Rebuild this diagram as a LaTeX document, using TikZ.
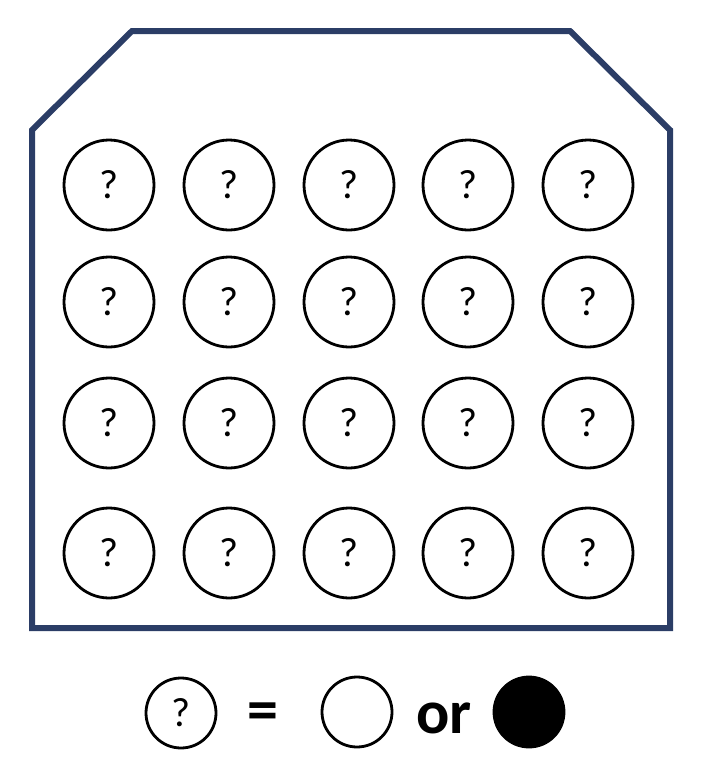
\documentclass[tikz,border=0pt]{standalone}
\usepackage{fontspec}
\setmainfont{Carlito}
\definecolor{navy}{HTML}{2B3D66}
\begin{document}
\begin{tikzpicture}[x=1pt,y=-1pt,
  qcirc/.style={circle,draw=black,line width=2.8pt,minimum size=90pt,inner sep=0pt,font=\fontsize{41}{41}\selectfont},
  lcirc/.style={circle,draw=black,line width=2.8pt,minimum size=70pt,inner sep=0pt,font=\fontsize{41}{41}\selectfont},
  big/.style={font=\fontsize{62}{62}\selectfont\bfseries,inner sep=0pt}]
\useasboundingbox (0,0) rectangle (702,774);
\draw[navy,line width=6pt,line join=miter] (32,130) -- (132,31) -- (570,31) -- (670,130) -- (670,628) -- (32,628) -- cycle;
\foreach \r/\y in {1/185,2/302,3/423,4/553}{
  \foreach \c/\x in {1/109,2/229,3/349,4/468,5/588}{
    \node[qcirc] (q\r\c) at (\x,\y) {?};
  }
}
\node[lcirc] (lq) at (181,713) {?};
\node[big] (eq) at (263,716.5) {=};
\node[lcirc] (lw) at (357,712) {};
\node[big,anchor=base west] (or) at (416,733) {or};
\node[lcirc,fill=black] (lb) at (529,712) {};
\end{tikzpicture}
\end{document}
